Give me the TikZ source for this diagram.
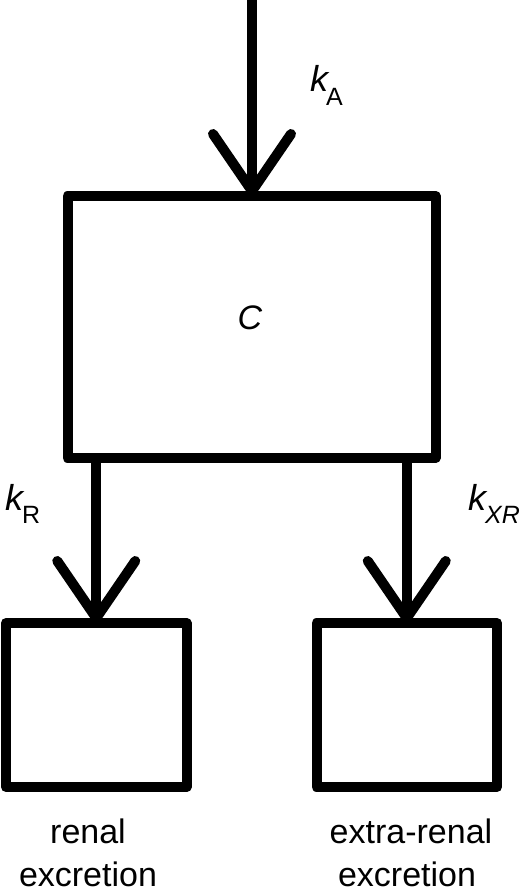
\documentclass[tikz,border=0pt]{standalone}
\usepackage{fontspec}
\setmainfont{Liberation Sans}
\begin{document}
\begin{tikzpicture}[x=1pt,y=-1pt,
  box/.style={draw=black,line width=10pt,line join=round,inner sep=0pt,minimum width=#1},
  stem/.style={draw=black,line width=10pt},
  barb/.style={draw=black,line width=10pt,line cap=round,line join=round},
  lbl/.style={inner sep=0pt,font=\fontsize{34}{43}\selectfont},
  klbl/.style={inner sep=0pt,font=\fontsize{36}{43}\selectfont}]
\useasboundingbox (0,0) rectangle (522,888);
% boxes
\node[box=368pt,minimum height=262pt] (C) at (251.5,327) {};
\node[box=180.5pt,minimum height=164pt] (L) at (96.25,705) {};
\node[box=180.5pt,minimum height=164pt] (R) at (406.75,705) {};
% top inflow
\coordinate (top) at (252,-6);
\draw[stem] (top) -- (top |- C.north);
\draw[barb] ([shift={(-39,-57)}]top |- C.north) -- (top |- C.north) -- ([shift={(39,-57)}]top |- C.north);
% renal
\draw[stem] (C.south -| L.north) -- (L.north);
\draw[barb] ([shift={(-39,-57)}]L.north) -- (L.north) -- ([shift={(39,-57)}]L.north);
% extra-renal
\draw[stem] (C.south -| R.north) -- (R.north);
\draw[barb] ([shift={(-39,-57)}]R.north) -- (R.north) -- ([shift={(39,-57)}]R.north);
% labels
\node[lbl,anchor=center] (Clab) at (250,318) {\itshape C};
\node[klbl,anchor=base west] (kA) at (310,92) {\itshape k\kern-2pt\raisebox{-14pt}{\upshape\fontsize{25}{25}\selectfont A}};
\node[klbl,anchor=base west] (kR) at (5,510) {\itshape k\kern-1pt\raisebox{-13pt}{\upshape\fontsize{25}{25}\selectfont R}};
\node[klbl,anchor=base west] (kXR) at (468,510) {\itshape k\kern-1pt\raisebox{-13pt}{\fontsize{25}{25}\selectfont XR}};
\node[lbl,anchor=base] (l1) at (88,843) {renal};
\node[lbl,anchor=base] (l2) at (88,886) {excretion};
\node[lbl,anchor=base] (r1) at (411,843) {extra-renal};
\node[lbl,anchor=base] (r2) at (407,886) {excretion};
\end{tikzpicture}
\end{document}
